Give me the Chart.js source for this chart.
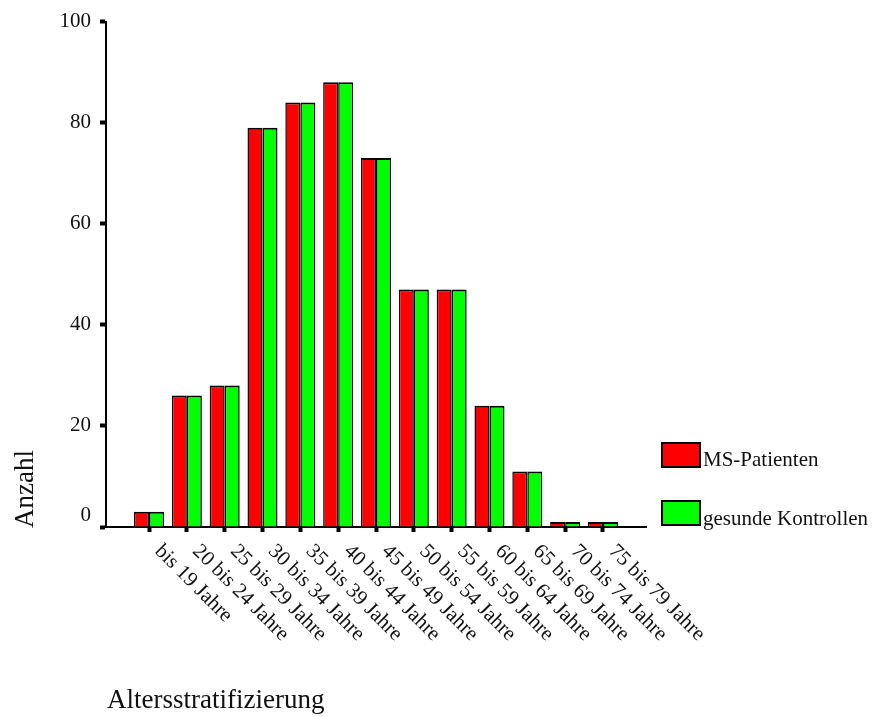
<!DOCTYPE html>
<html>
<head>
<meta charset="utf-8">
<script src="https://cdn.jsdelivr.net/npm/chart.js@4/dist/chart.umd.min.js"></script>
<style>
html, body { margin: 0; padding: 0; background: #ffffff; }
#wrap { width: 877px; height: 717px; }
</style>
</head>
<body>
<div id="wrap"><canvas id="c" width="877" height="717"></canvas></div>
<script>
// ---- data ----
const categories = ['bis 19 Jahre', '20 bis 24 Jahre', '25 bis 29 Jahre', '30 bis 34 Jahre',
  '35 bis 39 Jahre', '40 bis 44 Jahre', '45 bis 49 Jahre', '50 bis 54 Jahre', '55 bis 59 Jahre',
  '60 bis 64 Jahre', '65 bis 69 Jahre', '70 bis 74 Jahre', '75 bis 79 Jahre'];
const msPatienten = [3, 26, 28, 79, 84, 88, 73, 47, 47, 24, 11, 1, 1];
const gesundeKontrollen = [3, 26, 28, 79, 84, 88, 73, 47, 47, 24, 11, 1, 1];
const seriesNames = ['MS-Patienten', 'gesunde Kontrollen'];
const yTickValues = [0, 20, 40, 60, 80, 100];
const xTitle = 'Altersstratifizierung';
const yTitle = 'Anzahl';

const SERIF = '"Liberation Serif", "DejaVu Serif", serif';
const colors = ['#ff0000', '#00ff00'];

const toPoints = arr => arr.map((v, i) => ({ x: i, y: v }));

const overlay = {
  id: 'overlay',
  afterDraw(chart) {
    const ctx = chart.ctx;
    const xs = chart.scales.x;
    const ys = chart.scales.y;
    const area = chart.chartArea;
    ctx.save();
    ctx.fillStyle = '#111';
    // the zero label sits slightly above its tick in the original
    ctx.font = '21px ' + SERIF;
    ctx.textAlign = 'right';
    ctx.textBaseline = 'middle';
    ctx.fillText(String(yTickValues[0]), 91, ys.getPixelForValue(yTickValues[0]) - 12);
    // rotated category labels
    ctx.font = '21px ' + SERIF;
    ctx.textAlign = 'left';
    ctx.textBaseline = 'alphabetic';
    categories.forEach((lab, i) => {
      const px = xs.getPixelForValue(i);
      ctx.save();
      ctx.translate(px + 5, area.bottom + 25);
      ctx.rotate(Math.PI / 4);
      ctx.fillText(lab, 0, 0);
      ctx.restore();
    });
    // axis titles
    ctx.font = '27px ' + SERIF;
    ctx.fillText(xTitle, area.left + 1, 708);
    ctx.save();
    ctx.translate(33, area.bottom + 1);
    ctx.rotate(-Math.PI / 2);
    ctx.fillText(yTitle, 0, 0);
    ctx.restore();
    // legend
    ctx.font = '21px ' + SERIF;
    const boxes = [[442, 466], [500, 524.5]];
    chart.data.datasets.forEach((ds, k) => {
      const [top, base] = boxes[k];
      ctx.fillStyle = ds.backgroundColor;
      ctx.fillRect(661, top, 40, 26);
      ctx.lineWidth = 2;
      ctx.strokeStyle = '#000';
      ctx.strokeRect(662, top + 1, 38, 24);
      ctx.fillStyle = '#111';
      ctx.fillText(ds.label, 703, base);
    });
    ctx.restore();
  }
};

new Chart(document.getElementById('c'), {
  type: 'bar',
  data: {
    datasets: [
      { label: seriesNames[0], data: toPoints(msPatienten), backgroundColor: colors[0],
        borderColor: '#000', borderWidth: { top: 2, left: 1.5, right: 1.5, bottom: 0 } },
      { label: seriesNames[1], data: toPoints(gesundeKontrollen), backgroundColor: colors[1],
        borderColor: '#000', borderWidth: { top: 2, left: 1.5, right: 1.5, bottom: 0 } }
    ]
  },
  options: {
    responsive: false,
    animation: false,
    devicePixelRatio: 1,
    events: [],
    categoryPercentage: 0.793,
    barPercentage: 1.0,
    layout: { padding: { top: 17, right: 231, bottom: 0, left: 0 } },
    plugins: { legend: { display: false }, tooltip: { enabled: false } },
    scales: {
      x: {
        type: 'linear',
        min: -1.137,
        max: 13.137,
        offset: false,
        afterBuildTicks: s => { s.ticks = categories.map((_, i) => ({ value: i })); },
        afterFit: s => { s.height = 190; },
        ticks: { display: false },
        grid: { offset: false, drawOnChartArea: false, drawTicks: true, tickLength: 5, tickWidth: 4, tickColor: '#000' },
        border: { display: true, color: '#000', width: 2 }
      },
      y: {
        min: 0,
        max: 100,
        afterBuildTicks: s => { s.ticks = yTickValues.map(v => ({ value: v })); },
        afterFit: s => { s.width = 106; },
        ticks: { font: { family: SERIF, size: 21 }, color: '#111', padding: 9,
                 callback: v => (v === yTickValues[0] ? '' : String(v)) },
        grid: { drawOnChartArea: false, drawTicks: true, tickLength: 6, tickWidth: 4, tickColor: '#000' },
        border: { display: true, color: '#000', width: 2 }
      }
    }
  },
  plugins: [overlay]
});
</script>
</body>
</html>
